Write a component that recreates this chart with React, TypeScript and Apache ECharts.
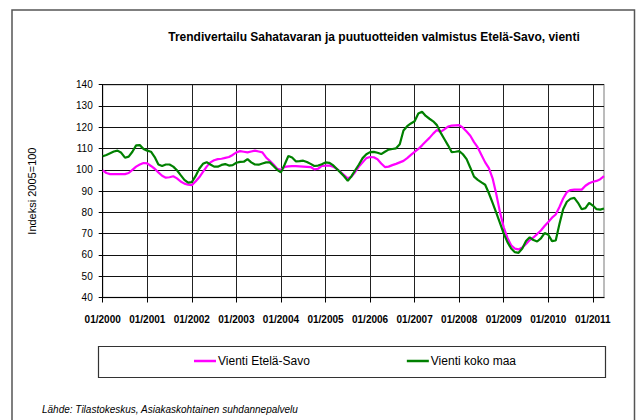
import React, { useEffect, useRef } from "react";
import * as echarts from "echarts";

const years = [2000, 2001, 2002, 2003, 2004, 2005, 2006, 2007, 2008, 2009, 2010, 2011];
const monthCount = 136; // 01/2000 .. 04/2011

const etelaSavo = [
  // 2000
  99.7, 98.5, 98, 98, 98, 98, 98, 98.5, 100, 101.5, 102.5, 103.2,
  // 2001
  103, 101.8, 100.5, 98.8, 97.2, 96.3, 96.5, 97, 96, 94.5, 93.5, 93,
  // 2002
  92.8, 94.5, 96.5, 99, 101.5, 103.5, 104.5, 105, 105.2, 105.6, 106, 107,
  // 2003
  108.2, 108.8, 108.5, 108.2, 108.6, 109, 108.6, 108.2, 105.8, 104.2, 102.5, 100.5,
  // 2004
  100, 101.4, 101.6, 101.7, 101.7, 101.6, 101.5, 101.4, 101.3, 100.2, 100.5, 101.8,
  // 2005
  102, 102, 101.5, 100.5, 99, 97.5, 96, 96.8, 99, 101.5, 103.5, 105.5,
  // 2006
  106, 105.9, 105, 103, 101.3, 101.5, 102.2, 102.8, 103.5, 104.2, 105.5, 107,
  // 2007
  108.4, 109.8, 111.5, 113.3, 115, 117, 118.7, 117.8, 119, 120.3, 120.8, 120.9,
  // 2008
  121, 119.8, 118, 116, 113, 110.5, 107, 103.5, 100.8, 96, 88.5, 80,
  // 2009
  73, 68, 64.5, 63, 62.6, 63.5, 65.2, 67, 68.2, 69.8, 71.5, 73.6,
  // 2010
  75.5, 77.5, 79, 82.5, 86.5, 89.5, 90.5, 90.7, 90.7, 90.7, 92.5, 93.7,
  // 2011
  94.4, 94.8, 95.6, 97,
];

const kokoMaa = [
  // 2000
  106.4, 107, 107.8, 108.6, 109, 108, 105.7, 106.2, 108.5, 111.5, 111.6, 109.8,
  // 2001
  109, 108.5, 106, 102.5, 101.8, 102.5, 102.5, 101.5, 99.8, 97.5, 95.3, 94,
  // 2002
  94.2, 97, 100.5, 102.8, 103.6, 102.5, 101.5, 101.5, 102.3, 102.7, 102, 102.2,
  // 2003
  103.3, 103.7, 103.8, 105, 103.5, 102.5, 102.4, 103, 103.5, 103.5, 101.8, 100,
  // 2004
  98.8, 102.5, 106.5, 105.8, 104, 104.1, 104.3, 103.7, 102.8, 101.8, 102, 102.6,
  // 2005
  103.5, 103.3, 102.2, 100.5, 98.8, 97, 94.8, 97, 99.8, 102.5, 105.5, 107.3,
  // 2006
  108.3, 108.4, 108, 107.4, 108.5, 109.5, 109.8, 110.1, 112, 118.5, 120.5, 121.8,
  // 2007
  122.8, 126.5, 127.3, 125.3, 124, 122.8, 121, 117.5, 114.5, 111.5, 108.3, 108.5,
  // 2008
  108.8, 107.3, 105, 101, 96.8, 95.3, 94.1, 93, 89, 84.5, 79.8, 75,
  // 2009
  70, 66, 63, 61.3, 61, 63, 66.5, 68.3, 67, 66.3, 67.8, 70.3,
  // 2010
  69.5, 66.5, 66.8, 74.5, 81.5, 85, 86.4, 86.8, 84.5, 81.5, 82, 84.5,
  // 2011
  83.2, 81.5, 81.3, 81.8,
];

const seriesNames = ["Vienti Etelä-Savo", "Vienti koko maa"];
const titleText = "Trendivertailu Sahatavaran ja puutuotteiden valmistus Etelä-Savo, vienti";
const yAxisTitle = "Indeksi 2005=100";
const sourceText = "Lähde: Tilastokeskus, Asiakaskohtainen suhdannepalvelu";

const categories: string[] = [];
years.forEach((y) => {
  for (let m = 1; m <= 12; m++) {
    categories.push((m < 10 ? "0" + m : "" + m) + "/" + y);
  }
});
const months = categories.slice(0, monthCount);

const FONT = "'Liberation Sans', Arial, sans-serif";

export default function App() {
  const ref = useRef<HTMLDivElement>(null);
  useEffect(() => {
    if (!ref.current) return;
    const chart = echarts.init(ref.current, undefined, { renderer: "svg" });
    chart.setOption({
      animation: false,
      backgroundColor: "#ffffff",
      textStyle: { fontFamily: FONT },
      grid: {
        left: 102.7,
        top: 84.7,
        right: 35,
        bottom: 122.5,
        show: true,
        borderColor: "#a6a6a6",
        borderWidth: 1.5,
      },
      xAxis: {
        type: "category",
        data: months,
        boundaryGap: false,
        axisLine: { show: true, lineStyle: { color: "#000", width: 1 } },
        axisTick: { show: true, interval: 11, length: 5, lineStyle: { color: "#000" } },
        axisLabel: {
          interval: 11,
          margin: 17,
          fontSize: 10,
          fontWeight: "bold",
          color: "#000",
          fontFamily: FONT,
        },
        splitLine: { show: true, interval: 11, lineStyle: { color: "#222", width: 1 } },
      },
      yAxis: {
        type: "value",
        min: 40,
        max: 140,
        interval: 10,
        name: yAxisTitle,
        nameLocation: "middle",
        nameRotate: 90,
        nameGap: 65,
        nameTextStyle: { fontSize: 11, color: "#000", fontFamily: FONT },
        axisLine: { show: true, lineStyle: { color: "#000", width: 1 } },
        axisTick: { show: true, length: 4, lineStyle: { color: "#000" } },
        axisLabel: { fontSize: 10, color: "#000", margin: 10, fontFamily: FONT },
        splitLine: { show: true, lineStyle: { color: "#111", width: 1 } },
      },
      legend: {
        data: [
          { name: seriesNames[0], icon: "rect" },
          { name: seriesNames[1], icon: "rect" },
        ],
        left: 189,
        top: 350,
        itemWidth: 22,
        itemHeight: 2.5,
        itemGap: 97,
        textStyle: { fontSize: 12, color: "#000", fontFamily: FONT, padding: [0, 0, 0, -3] },
      },
      graphic: [
        {
          type: "rect",
          shape: { x: 12, y: 10, width: 622.5, height: 420 },
          style: { fill: "none", stroke: "#555", lineWidth: 1.5 },
          silent: true,
          z: -1,
        },
        {
          type: "rect",
          shape: { x: 98.5, y: 346.5, width: 507, height: 31 },
          style: { fill: "none", stroke: "#333", lineWidth: 1.2 },
          silent: true,
        },
        {
          type: "text",
          x: 374,
          y: 37,
          style: {
            text: titleText,
            fontSize: 12,
            fontWeight: "bold",
            fontFamily: FONT,
            fill: "#000",
            align: "center",
            verticalAlign: "middle",
          },
        },
        {
          type: "text",
          x: 42,
          y: 409,
          style: {
            text: sourceText,
            fontSize: 10,
            fontStyle: "italic",
            fontFamily: FONT,
            fill: "#000",
            align: "left",
            verticalAlign: "middle",
          },
        },
      ],
      series: [
        {
          name: seriesNames[0],
          type: "line",
          data: etelaSavo,
          showSymbol: false,
          symbol: "none",
          lineStyle: { color: "#ff00ff", width: 2.2 },
          itemStyle: { color: "#ff00ff" },
          z: 3,
        },
        {
          name: seriesNames[1],
          type: "line",
          data: kokoMaa,
          showSymbol: false,
          symbol: "none",
          lineStyle: { color: "#008000", width: 2.2 },
          itemStyle: { color: "#008000" },
          z: 4,
        },
      ],
    });
    return () => chart.dispose();
  }, []);
  return (
    <div
      ref={ref}
      style={{ position: "absolute", left: 0, top: 0, width: 639, height: 420 }}
    />
  );
}
